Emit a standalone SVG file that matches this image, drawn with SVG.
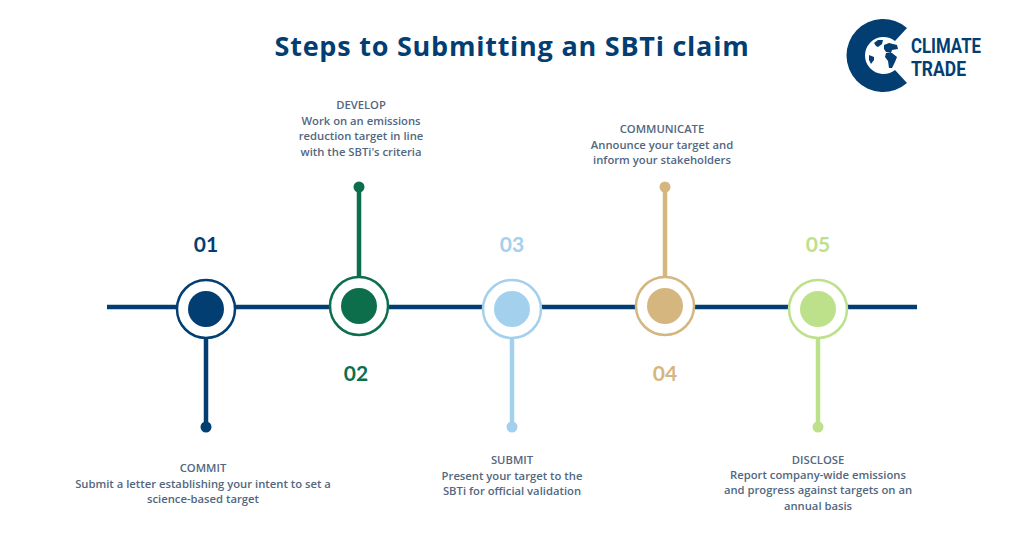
<svg xmlns="http://www.w3.org/2000/svg" width="1024" height="555" viewBox="0 0 1024 555">
<style>
.t{font-family:"Open Sans","Noto Sans",sans-serif;font-weight:600;font-size:11.25px;fill:#52677f;text-anchor:middle}
.n{font-family:"Lato","Noto Sans",sans-serif;font-weight:700;font-size:21px;text-anchor:middle}
.l{stroke-width:4.5;fill:none}
.r{fill:#fff;stroke-width:2.5}
.logo{font-family:"Liberation Sans Narrow","Roboto",sans-serif;font-weight:700;font-size:21px;fill:#033e73}
</style>
<rect width="1024" height="555" fill="#fff"/>
<text x="512" y="56" text-anchor="middle" font-family="'Open Sans','Noto Sans',sans-serif" font-weight="700" font-size="27" letter-spacing="0.76" fill="#033e73">Steps to Submitting an SBTi claim</text>
<g id="logo">
<path d="M907 28 A36.5 36.5 0 1 0 907 83 L895 70 A18.5 18.5 0 1 1 895 41 Z" fill="#033e73"/>
<path d="M874 43 l4-3 5 0 -1 4 -4 3 -2 -1z M884 45 l5-2 8 2 1 4 -6 1 -1 3 -5-1-2-3z M886 53 l6 0 5 4 -2 5 -3 6 -3 0 -1-7 -3-4z M869 55 l5 2 0 3 -3 4 -2-4z" fill="#033e73"/>
<text class="logo" x="911" y="52.5" textLength="70" lengthAdjust="spacingAndGlyphs">CLIMATE</text>
<text class="logo" x="911" y="76" textLength="55" lengthAdjust="spacingAndGlyphs">TRADE</text>
</g>
<g id="connectors">
<line x1="107" y1="307" x2="917" y2="307" stroke="#033e73" stroke-width="4.5"/>
<line class="l" x1="206" y1="339" x2="206" y2="427" stroke="#033e73"/>
<line class="l" x1="359" y1="187" x2="359" y2="277" stroke="#0d6e4c"/>
<line class="l" x1="512" y1="339" x2="512" y2="427" stroke="#a3d0ec"/>
<line class="l" x1="665" y1="187" x2="665" y2="277" stroke="#d5b67f"/>
<line class="l" x1="818" y1="339" x2="818" y2="427" stroke="#bde08a"/>
</g>
<g id="node1">
<circle class="r" cx="206" cy="309" r="29" stroke="#033e73"/><circle cx="206" cy="309" r="18" fill="#033e73"/><circle cx="206" cy="427" r="5.5" fill="#033e73"/>
<text class="n" x="206" y="252" fill="#033e73">01</text>
<text class="t" x="203" y="472">COMMIT</text><text class="t" x="203" y="488">Submit a letter establishing your intent to set a</text><text class="t" x="203" y="503">science-based target</text>
</g>
<g id="node2">
<circle class="r" cx="359" cy="306" r="29" stroke="#0d6e4c"/><circle cx="359" cy="306" r="18" fill="#0d6e4c"/><circle cx="359" cy="187" r="5.5" fill="#0d6e4c"/>
<text class="n" x="356" y="381" fill="#0d6e4c">02</text>
<text class="t" x="361" y="109">DEVELOP</text><text class="t" x="361" y="125">Work on an emissions</text><text class="t" x="361" y="140">reduction target in line</text><text class="t" x="361" y="156">with the SBTi's criteria</text>
</g>
<g id="node3">
<circle class="r" cx="512" cy="309" r="29" stroke="#a3d0ec"/><circle cx="512" cy="309" r="18" fill="#a3d0ec"/><circle cx="512" cy="427" r="5.5" fill="#a3d0ec"/>
<text class="n" x="512" y="252" fill="#a3d0ec">03</text>
<text class="t" x="512" y="464">SUBMIT</text><text class="t" x="512" y="480">Present your target to the</text><text class="t" x="512" y="495">SBTi for official validation</text>
</g>
<g id="node4">
<circle class="r" cx="665" cy="306" r="29" stroke="#d5b67f"/><circle cx="665" cy="306" r="18" fill="#d5b67f"/><circle cx="665" cy="187" r="5.5" fill="#d5b67f"/>
<text class="n" x="665" y="381" fill="#d5b67f">04</text>
<text class="t" x="662" y="133">COMMUNICATE</text><text class="t" x="662" y="149">Announce your target and</text><text class="t" x="662" y="164">inform your stakeholders</text>
</g>
<g id="node5">
<circle class="r" cx="818" cy="309" r="29" stroke="#bde08a"/><circle cx="818" cy="309" r="18" fill="#bde08a"/><circle cx="818" cy="427" r="5.5" fill="#bde08a"/>
<text class="n" x="818" y="252" fill="#bde08a">05</text>
<text class="t" x="818" y="464">DISCLOSE</text><text class="t" x="818" y="479">Report company-wide emissions</text><text class="t" x="818" y="494">and progress against targets on an</text><text class="t" x="818" y="510">annual basis</text>
</g>
</svg>
